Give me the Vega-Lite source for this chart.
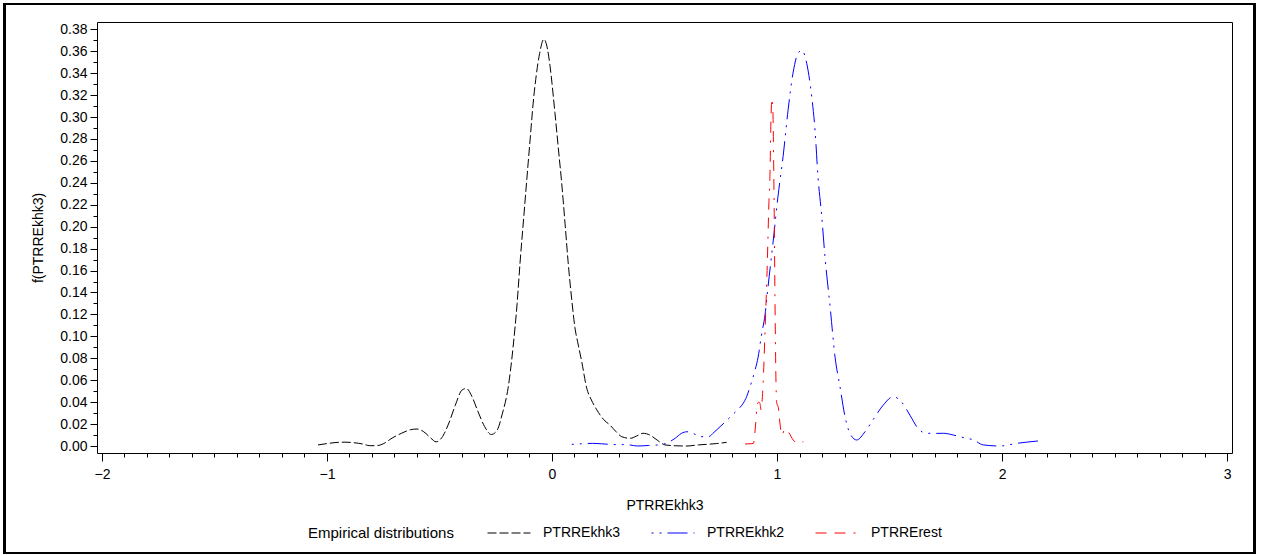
{
  "$schema": "https://vega.github.io/schema/vega-lite/v6.json",
  "width": 1135,
  "height": 431,
  "autosize": {"type": "none"},
  "padding": {"left": 97, "top": 22, "right": 29, "bottom": 103},
  "background": "white",
  "config": {
    "font": "Liberation Sans",
    "view": {"stroke": "#000000", "strokeWidth": 1},
    "axis": {"labelColor": "#000000", "titleColor": "#000000", "tickColor": "#000000", "labelFontSize": 14, "titleFontSize": 14, "titleFontWeight": "normal", "domain": false, "grid": false}
  },
  "data": {
    "values": [
      {"series": "PTRREkhk3", "x": -1.04, "y": 0.001},
      {"series": "PTRREkhk3", "x": -1.0, "y": 0.0022},
      {"series": "PTRREkhk3", "x": -0.96, "y": 0.0032},
      {"series": "PTRREkhk3", "x": -0.92, "y": 0.0035},
      {"series": "PTRREkhk3", "x": -0.88, "y": 0.003},
      {"series": "PTRREkhk3", "x": -0.84, "y": 0.0018},
      {"series": "PTRREkhk3", "x": -0.81, "y": 0.0003},
      {"series": "PTRREkhk3", "x": -0.78, "y": 0.0003},
      {"series": "PTRREkhk3", "x": -0.75, "y": 0.002},
      {"series": "PTRREkhk3", "x": -0.71, "y": 0.0073},
      {"series": "PTRREkhk3", "x": -0.67, "y": 0.0115},
      {"series": "PTRREkhk3", "x": -0.63, "y": 0.0148},
      {"series": "PTRREkhk3", "x": -0.6, "y": 0.0155},
      {"series": "PTRREkhk3", "x": -0.57, "y": 0.013},
      {"series": "PTRREkhk3", "x": -0.54, "y": 0.0075},
      {"series": "PTRREkhk3", "x": -0.515, "y": 0.0038},
      {"series": "PTRREkhk3", "x": -0.49, "y": 0.0075},
      {"series": "PTRREkhk3", "x": -0.46, "y": 0.02},
      {"series": "PTRREkhk3", "x": -0.43, "y": 0.037},
      {"series": "PTRREkhk3", "x": -0.4, "y": 0.051},
      {"series": "PTRREkhk3", "x": -0.38, "y": 0.0525},
      {"series": "PTRREkhk3", "x": -0.36, "y": 0.047},
      {"series": "PTRREkhk3", "x": -0.33, "y": 0.032},
      {"series": "PTRREkhk3", "x": -0.3, "y": 0.018},
      {"series": "PTRREkhk3", "x": -0.27, "y": 0.0105},
      {"series": "PTRREkhk3", "x": -0.245, "y": 0.014},
      {"series": "PTRREkhk3", "x": -0.22, "y": 0.03},
      {"series": "PTRREkhk3", "x": -0.195, "y": 0.053},
      {"series": "PTRREkhk3", "x": -0.173, "y": 0.09},
      {"series": "PTRREkhk3", "x": -0.155, "y": 0.13},
      {"series": "PTRREkhk3", "x": -0.142, "y": 0.167},
      {"series": "PTRREkhk3", "x": -0.125, "y": 0.21},
      {"series": "PTRREkhk3", "x": -0.112, "y": 0.243},
      {"series": "PTRREkhk3", "x": -0.097, "y": 0.28},
      {"series": "PTRREkhk3", "x": -0.084, "y": 0.312},
      {"series": "PTRREkhk3", "x": -0.07, "y": 0.338},
      {"series": "PTRREkhk3", "x": -0.055, "y": 0.358},
      {"series": "PTRREkhk3", "x": -0.036, "y": 0.371},
      {"series": "PTRREkhk3", "x": -0.02, "y": 0.362},
      {"series": "PTRREkhk3", "x": -0.009, "y": 0.347},
      {"series": "PTRREkhk3", "x": 0.013, "y": 0.304},
      {"series": "PTRREkhk3", "x": 0.028, "y": 0.272},
      {"series": "PTRREkhk3", "x": 0.043, "y": 0.24},
      {"series": "PTRREkhk3", "x": 0.058, "y": 0.203},
      {"series": "PTRREkhk3", "x": 0.072, "y": 0.167},
      {"series": "PTRREkhk3", "x": 0.087, "y": 0.135},
      {"series": "PTRREkhk3", "x": 0.102, "y": 0.108},
      {"series": "PTRREkhk3", "x": 0.117, "y": 0.092},
      {"series": "PTRREkhk3", "x": 0.133, "y": 0.076},
      {"series": "PTRREkhk3", "x": 0.154, "y": 0.053},
      {"series": "PTRREkhk3", "x": 0.175, "y": 0.042},
      {"series": "PTRREkhk3", "x": 0.199, "y": 0.033},
      {"series": "PTRREkhk3", "x": 0.23, "y": 0.024},
      {"series": "PTRREkhk3", "x": 0.258, "y": 0.019},
      {"series": "PTRREkhk3", "x": 0.285, "y": 0.013},
      {"series": "PTRREkhk3", "x": 0.31, "y": 0.0085},
      {"series": "PTRREkhk3", "x": 0.347, "y": 0.007},
      {"series": "PTRREkhk3", "x": 0.375, "y": 0.009},
      {"series": "PTRREkhk3", "x": 0.405, "y": 0.0116},
      {"series": "PTRREkhk3", "x": 0.435, "y": 0.01},
      {"series": "PTRREkhk3", "x": 0.47, "y": 0.005},
      {"series": "PTRREkhk3", "x": 0.502, "y": 0.001},
      {"series": "PTRREkhk3", "x": 0.55, "y": 0.0002},
      {"series": "PTRREkhk3", "x": 0.6, "y": 0.0},
      {"series": "PTRREkhk3", "x": 0.65, "y": 0.001},
      {"series": "PTRREkhk3", "x": 0.687, "y": 0.0015},
      {"series": "PTRREkhk3", "x": 0.73, "y": 0.0022},
      {"series": "PTRREkhk3", "x": 0.776, "y": 0.0033},
      {"series": "PTRREkhk2", "x": 0.088, "y": 0.0015},
      {"series": "PTRREkhk2", "x": 0.13, "y": 0.002},
      {"series": "PTRREkhk2", "x": 0.18, "y": 0.0024},
      {"series": "PTRREkhk2", "x": 0.22, "y": 0.002},
      {"series": "PTRREkhk2", "x": 0.258, "y": 0.0015},
      {"series": "PTRREkhk2", "x": 0.3, "y": 0.0012},
      {"series": "PTRREkhk2", "x": 0.33, "y": 0.0013},
      {"series": "PTRREkhk2", "x": 0.38, "y": 0.0},
      {"series": "PTRREkhk2", "x": 0.43, "y": 0.0005},
      {"series": "PTRREkhk2", "x": 0.48, "y": 0.0012},
      {"series": "PTRREkhk2", "x": 0.51, "y": 0.0026},
      {"series": "PTRREkhk2", "x": 0.547, "y": 0.007},
      {"series": "PTRREkhk2", "x": 0.575, "y": 0.0115},
      {"series": "PTRREkhk2", "x": 0.6, "y": 0.013},
      {"series": "PTRREkhk2", "x": 0.628, "y": 0.0115},
      {"series": "PTRREkhk2", "x": 0.658, "y": 0.0085},
      {"series": "PTRREkhk2", "x": 0.695, "y": 0.0085},
      {"series": "PTRREkhk2", "x": 0.72, "y": 0.0125},
      {"series": "PTRREkhk2", "x": 0.747, "y": 0.0176},
      {"series": "PTRREkhk2", "x": 0.775, "y": 0.023},
      {"series": "PTRREkhk2", "x": 0.8, "y": 0.028},
      {"series": "PTRREkhk2", "x": 0.825, "y": 0.033},
      {"series": "PTRREkhk2", "x": 0.85, "y": 0.039},
      {"series": "PTRREkhk2", "x": 0.865, "y": 0.045},
      {"series": "PTRREkhk2", "x": 0.88, "y": 0.054},
      {"series": "PTRREkhk2", "x": 0.902, "y": 0.069},
      {"series": "PTRREkhk2", "x": 0.916, "y": 0.081},
      {"series": "PTRREkhk2", "x": 0.93, "y": 0.1},
      {"series": "PTRREkhk2", "x": 0.947, "y": 0.12},
      {"series": "PTRREkhk2", "x": 0.96, "y": 0.145},
      {"series": "PTRREkhk2", "x": 0.982, "y": 0.185},
      {"series": "PTRREkhk2", "x": 1.004, "y": 0.227},
      {"series": "PTRREkhk2", "x": 1.027, "y": 0.264},
      {"series": "PTRREkhk2", "x": 1.049, "y": 0.306},
      {"series": "PTRREkhk2", "x": 1.071, "y": 0.34},
      {"series": "PTRREkhk2", "x": 1.093, "y": 0.358},
      {"series": "PTRREkhk2", "x": 1.11, "y": 0.361},
      {"series": "PTRREkhk2", "x": 1.132, "y": 0.349},
      {"series": "PTRREkhk2", "x": 1.154, "y": 0.319},
      {"series": "PTRREkhk2", "x": 1.169, "y": 0.288},
      {"series": "PTRREkhk2", "x": 1.182, "y": 0.246},
      {"series": "PTRREkhk2", "x": 1.199, "y": 0.209},
      {"series": "PTRREkhk2", "x": 1.213, "y": 0.173},
      {"series": "PTRREkhk2", "x": 1.236, "y": 0.127},
      {"series": "PTRREkhk2", "x": 1.258, "y": 0.081},
      {"series": "PTRREkhk2", "x": 1.28, "y": 0.054},
      {"series": "PTRREkhk2", "x": 1.302, "y": 0.027},
      {"series": "PTRREkhk2", "x": 1.324, "y": 0.0116},
      {"series": "PTRREkhk2", "x": 1.354, "y": 0.0055},
      {"series": "PTRREkhk2", "x": 1.391, "y": 0.013},
      {"series": "PTRREkhk2", "x": 1.427, "y": 0.024},
      {"series": "PTRREkhk2", "x": 1.471, "y": 0.037},
      {"series": "PTRREkhk2", "x": 1.516, "y": 0.045},
      {"series": "PTRREkhk2", "x": 1.554, "y": 0.04},
      {"series": "PTRREkhk2", "x": 1.591, "y": 0.028},
      {"series": "PTRREkhk2", "x": 1.627, "y": 0.016},
      {"series": "PTRREkhk2", "x": 1.665, "y": 0.0116},
      {"series": "PTRREkhk2", "x": 1.7, "y": 0.0115},
      {"series": "PTRREkhk2", "x": 1.739, "y": 0.0116},
      {"series": "PTRREkhk2", "x": 1.784, "y": 0.01},
      {"series": "PTRREkhk2", "x": 1.821, "y": 0.008},
      {"series": "PTRREkhk2", "x": 1.873, "y": 0.0055},
      {"series": "PTRREkhk2", "x": 1.917, "y": 0.001},
      {"series": "PTRREkhk2", "x": 1.991, "y": 0.0},
      {"series": "PTRREkhk2", "x": 2.065, "y": 0.0024},
      {"series": "PTRREkhk2", "x": 2.161, "y": 0.0046},
      {"series": "PTRRErest", "x": 0.858, "y": 0.0018},
      {"series": "PTRRErest", "x": 0.875, "y": 0.002},
      {"series": "PTRRErest", "x": 0.895, "y": 0.0024},
      {"series": "PTRRErest", "x": 0.905, "y": 0.02},
      {"series": "PTRRErest", "x": 0.911, "y": 0.036},
      {"series": "PTRRErest", "x": 0.918, "y": 0.04},
      {"series": "PTRRErest", "x": 0.924, "y": 0.039},
      {"series": "PTRRErest", "x": 0.929, "y": 0.033},
      {"series": "PTRRErest", "x": 0.938, "y": 0.056},
      {"series": "PTRRErest", "x": 0.947, "y": 0.106},
      {"series": "PTRRErest", "x": 0.956, "y": 0.16},
      {"series": "PTRRErest", "x": 0.964, "y": 0.222},
      {"series": "PTRRErest", "x": 0.969, "y": 0.25},
      {"series": "PTRRErest", "x": 0.973, "y": 0.297},
      {"series": "PTRRErest", "x": 0.978, "y": 0.317},
      {"series": "PTRRErest", "x": 0.982, "y": 0.304},
      {"series": "PTRRErest", "x": 0.985, "y": 0.26},
      {"series": "PTRRErest", "x": 0.987, "y": 0.224},
      {"series": "PTRRErest", "x": 0.991, "y": 0.133},
      {"series": "PTRRErest", "x": 0.996, "y": 0.053},
      {"series": "PTRRErest", "x": 0.999, "y": 0.039},
      {"series": "PTRRErest", "x": 1.006, "y": 0.035},
      {"series": "PTRRErest", "x": 1.013, "y": 0.021},
      {"series": "PTRRErest", "x": 1.021, "y": 0.01},
      {"series": "PTRRErest", "x": 1.036, "y": 0.0155},
      {"series": "PTRRErest", "x": 1.05, "y": 0.013},
      {"series": "PTRRErest", "x": 1.072, "y": 0.0055},
      {"series": "PTRRErest", "x": 1.095, "y": 0.0024},
      {"series": "PTRRErest", "x": 1.117, "y": 0.004}
    ]
  },
  "layer": [
    {
      "mark": {"type": "line", "strokeWidth": 1, "interpolate": "monotone", "clip": true},
      "encoding": {
        "x": {
          "field": "x", "type": "quantitative",
          "scale": {"domain": [-2.022, 3.022], "nice": false, "zero": false},
          "axis": {
            "title": "PTRREkhk3",
            "values": [-2, -1.9, -1.8, -1.7, -1.6, -1.5, -1.4, -1.3, -1.2, -1.1, -1, -0.9, -0.8, -0.7, -0.6, -0.5, -0.4, -0.3, -0.2, -0.1, 0, 0.1, 0.2, 0.3, 0.4, 0.5, 0.6, 0.7, 0.8, 0.9, 1, 1.1, 1.2, 1.3, 1.4, 1.5, 1.6, 1.7, 1.8, 1.9, 2, 2.1, 2.2, 2.3, 2.4, 2.5, 2.6, 2.7, 2.8, 2.9, 3],
            "labelExpr": "abs(datum.value - round(datum.value)) < 0.001 ? format(datum.value, 'd') : ''",
            "tickSize": {"condition": {"test": "abs(datum.value - round(datum.value)) < 0.001", "value": 8}, "value": 4},
            "labelPadding": 6,
            "labelOverlap": false,
            "titlePadding": 17
          }
        },
        "y": {
          "field": "y", "type": "quantitative",
          "scale": {"domain": [-0.00638, 0.3867], "nice": false, "zero": false},
          "axis": {
            "title": "f(PTRREkhk3)",
            "values": [0, 0.01, 0.02, 0.03, 0.04, 0.05, 0.06, 0.07, 0.08, 0.09, 0.1, 0.11, 0.12, 0.13, 0.14, 0.15, 0.16, 0.17, 0.18, 0.19, 0.2, 0.21, 0.22, 0.23, 0.24, 0.25, 0.26, 0.27, 0.28, 0.29, 0.3, 0.31, 0.32, 0.33, 0.34, 0.35, 0.36, 0.37, 0.38],
            "labelExpr": "round(datum.value * 100) % 2 === 0 ? format(datum.value, '.2f') : ''",
            "tickSize": {"condition": {"test": "round(datum.value * 100) % 2 === 0", "value": 7}, "value": 4},
            "labelPadding": 3,
            "labelOverlap": false,
            "titlePadding": 14
          }
        },
        "color": {
          "field": "series", "type": "nominal",
          "scale": {"domain": ["PTRREkhk3", "PTRREkhk2", "PTRRErest"], "range": ["#000000", "#0000ff", "#ff0000"]},
          "legend": {
            "title": "Empirical distributions",
            "orient": "none", "legendX": 211, "legendY": 489,
            "direction": "horizontal",
            "titleOrient": "left", "titleAnchor": "middle", "titleBaseline": "top", "titleFontWeight": "normal", "titleFontSize": 15, "titleColor": "#000000", "titlePadding": 33,
            "labelFontSize": 14, "labelColor": "#000000", "labelOffset": 12,
            "symbolType": "stroke", "symbolSize": 1849, "symbolStrokeWidth": 1,
            "columnPadding": 28, "padding": 0
          }
        },
        "strokeDash": {
          "field": "series", "type": "nominal",
          "scale": {"domain": ["PTRREkhk3", "PTRREkhk2", "PTRRErest"], "range": [[9, 3], [2, 6, 2, 6, 20, 6], [11, 8, 11, 8, 2, 8]]},
          "legend": {
            "title": "Empirical distributions",
            "orient": "none", "legendX": 211, "legendY": 489,
            "direction": "horizontal",
            "titleOrient": "left", "titleAnchor": "middle", "titleBaseline": "top", "titleFontWeight": "normal", "titleFontSize": 15, "titleColor": "#000000", "titlePadding": 33,
            "labelFontSize": 14, "labelColor": "#000000", "labelOffset": 12,
            "symbolType": "stroke", "symbolSize": 1849, "symbolStrokeWidth": 1,
            "columnPadding": 28, "padding": 0
          }
        }
      }
    },
    {
      "mark": {"type": "rect", "fill": null, "filled": false, "stroke": "#000000", "strokeWidth": 2, "clip": false},
      "encoding": {
        "x": {
          "datum": -2.431, "type": "quantitative",
          "scale": {"domain": [-2.022, 3.022], "nice": false, "zero": false},
          "axis": {
            "title": "PTRREkhk3",
            "values": [-2, -1.9, -1.8, -1.7, -1.6, -1.5, -1.4, -1.3, -1.2, -1.1, -1, -0.9, -0.8, -0.7, -0.6, -0.5, -0.4, -0.3, -0.2, -0.1, 0, 0.1, 0.2, 0.3, 0.4, 0.5, 0.6, 0.7, 0.8, 0.9, 1, 1.1, 1.2, 1.3, 1.4, 1.5, 1.6, 1.7, 1.8, 1.9, 2, 2.1, 2.2, 2.3, 2.4, 2.5, 2.6, 2.7, 2.8, 2.9, 3],
            "labelExpr": "abs(datum.value - round(datum.value)) < 0.001 ? format(datum.value, 'd') : ''",
            "tickSize": {"condition": {"test": "abs(datum.value - round(datum.value)) < 0.001", "value": 8}, "value": 4},
            "labelPadding": 6,
            "labelOverlap": false,
            "titlePadding": 17
          }
        },
        "x2": {"datum": 3.124},
        "y": {
          "datum": 0.4031, "type": "quantitative",
          "scale": {"domain": [-0.00638, 0.3867], "nice": false, "zero": false},
          "axis": {
            "title": "f(PTRREkhk3)",
            "values": [0, 0.01, 0.02, 0.03, 0.04, 0.05, 0.06, 0.07, 0.08, 0.09, 0.1, 0.11, 0.12, 0.13, 0.14, 0.15, 0.16, 0.17, 0.18, 0.19, 0.2, 0.21, 0.22, 0.23, 0.24, 0.25, 0.26, 0.27, 0.28, 0.29, 0.3, 0.31, 0.32, 0.33, 0.34, 0.35, 0.36, 0.37, 0.38],
            "labelExpr": "round(datum.value * 100) % 2 === 0 ? format(datum.value, '.2f') : ''",
            "tickSize": {"condition": {"test": "round(datum.value * 100) % 2 === 0", "value": 7}, "value": 4},
            "labelPadding": 3,
            "labelOverlap": false,
            "titlePadding": 14
          }
        },
        "y2": {"datum": -0.0976}
      }
    }
  ]
}
